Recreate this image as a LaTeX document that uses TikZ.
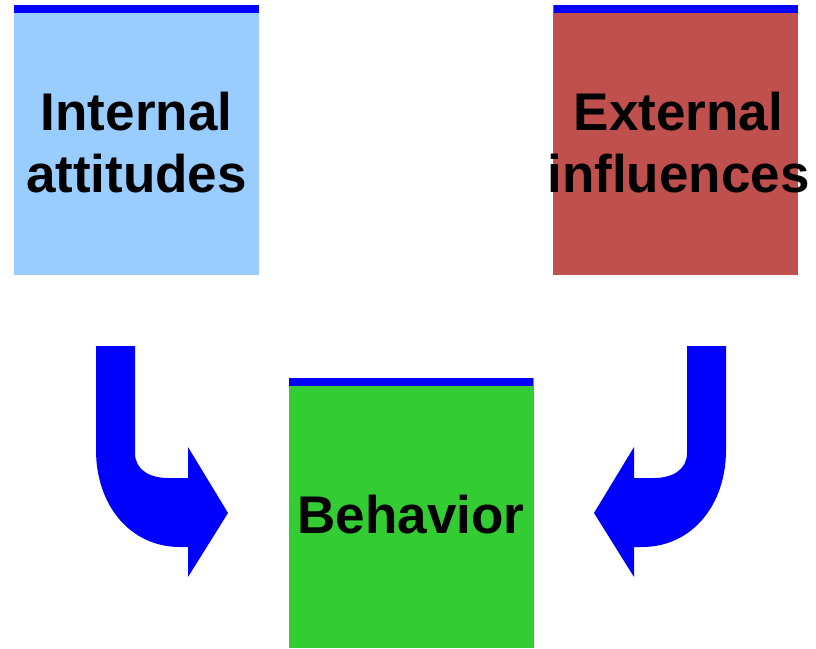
\documentclass[tikz,border=0pt]{standalone}
\usepackage{fontspec}
\setmainfont{Liberation Sans}
\usepackage{tikz}
\definecolor{attblue}{HTML}{99CCFF}
\definecolor{extred}{HTML}{C0504D}
\definecolor{behgreen}{HTML}{33CC33}
\definecolor{barblue}{HTML}{0000FF}
\tikzset{
  box/.style={minimum width=245pt, minimum height=270pt, inner sep=0pt, draw=none},
  lbl/.style={align=center, inner sep=0pt, font=\fontsize{53}{62}\selectfont\bfseries},
}
% bent block arrow, drawn for the left side
\def\bentarrow{(96,346) -- (135,346) -- (135,453) .. controls (135,470) and (150,478) .. (168,478) -- (188,478) -- (188,447) -- (228,513) -- (188,577) -- (188,547) -- (180,547) .. controls (130,547) and (96,505) .. (96,450) -- cycle}

\begin{document}
\begin{tikzpicture}[x=1pt, y=-1pt]
			%%%%% START %%%%%
			\useasboundingbox (0,0) rectangle (816,648);
			
			\node[box, fill=attblue] (internal) at (136.5,140) {};
			\fill[barblue] (14,5) rectangle (258.5,13);
			\node[lbl] (internaltxt) at (136.5,143) {Internal\\attitudes};
			
			\node[box, fill=extred] (external) at (675.5,140) {};
			\fill[barblue] (553.5,5) rectangle (798,13);
			\node[lbl] (externaltxt) at (678.5,143) {External\\influences};
			
			\node[box, fill=behgreen] (behavior) at (411,513) {};
			\fill[barblue] (288.5,378) rectangle (533,386);
			\node[lbl] (behaviortxt) at (411,514.5) {Behavior};
			
			\fill[barblue] \bentarrow;
			\begin{scope}[xshift=822pt, xscale=-1]
				\fill[barblue] \bentarrow;
			\end{scope}
			%%%%% END %%%%%
\end{tikzpicture}
\end{document}
